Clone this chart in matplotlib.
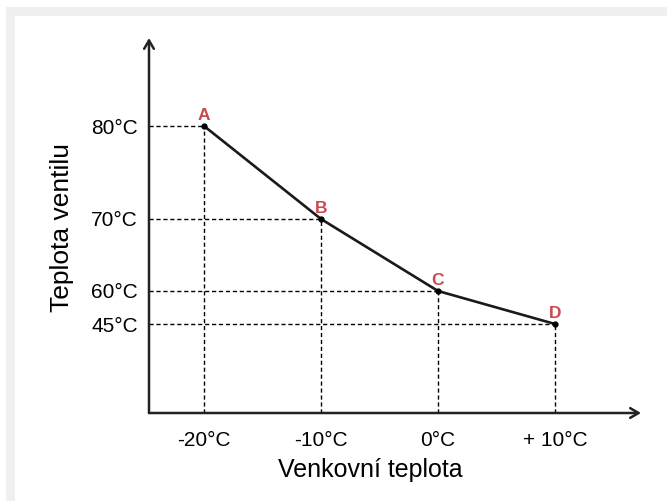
import numpy as np
import matplotlib
matplotlib.use("Agg")
import matplotlib.pyplot as plt
from matplotlib.patches import Rectangle

# ---- data ----
point_names = ["A", "B", "C", "D"]
outdoor_temp = [-20, -10, 0, 10]          # Venkovní teplota (°C)
valve_temp = [80, 70, 60, 45]             # Teplota ventilu (°C)
x_tick_labels = ["-20°C", "-10°C", "0°C", "+ 10°C"]
y_tick_labels = ["80°C", "70°C", "60°C", "45°C"]

plt.rcParams['font.family'] = ['Liberation Sans', 'DejaVu Sans']

W, H = 667, 501
fig = plt.figure(figsize=(W / 100, H / 100), dpi=100)
fig.patch.set_facecolor("white")
# light gray frame of the source picture
fig.patches.append(Rectangle((6 / W, 0), 1 - 6 / W, (H - 7) / H,
                             transform=fig.transFigure, facecolor="#f0f0f0",
                             edgecolor="none", zorder=-2))
fig.patches.append(Rectangle((15 / W, 0), 1 - 15 / W, (H - 16) / H,
                             transform=fig.transFigure, facecolor="white",
                             edgecolor="none", zorder=-1))

# axes area (pixel layout)
left_px, right_px, bottom_px, top_px = 149, 641, 413, 38
ax = fig.add_axes([left_px / W, 1 - bottom_px / H,
                   (right_px - left_px) / W, (bottom_px - top_px) / H])
ax.set_facecolor("none")

# non-linear (schematic) vertical scale: piecewise-linear mapping
kv = np.array([45.0, 60.0, 70.0, 80.0])
kp = np.array([89.0, 122.0, 194.0, 287.0])
lo_s = (kp[1] - kp[0]) / (kv[1] - kv[0])
hi_s = (kp[-1] - kp[-2]) / (kv[-1] - kv[-2])
kv_e = np.concatenate([[kv[0] - 200], kv, [kv[-1] + 200]])
kp_e = np.concatenate([[kp[0] - 200 * lo_s], kp, [kp[-1] + 200 * hi_s]])

def fwd(v):
    return np.interp(v, kv_e, kp_e)

def inv(p):
    return np.interp(p, kp_e, kv_e)

ax.set_yscale("function", functions=(fwd, inv))
span_px = bottom_px - top_px
ax.set_ylim(float(inv(0.0)), float(inv(span_px)))

px_per_deg = (555 - 204) / 30.0
ax.set_xlim(-20 - (204 - left_px) / px_per_deg, -20 + (right_px - 204) / px_per_deg)

x0, x1 = ax.get_xlim()
y0, y1 = ax.get_ylim()

# dashed guide lines
for xv, yv in zip(outdoor_temp, valve_temp):
    ax.plot([x0, xv], [yv, yv], color="black", lw=1.0, ls=(0, (3, 2)), zorder=2)
    ax.plot([xv, xv], [y0, yv], color="black", lw=1.0, ls=(0, (3, 2)), zorder=2)

# main curve
ax.plot(outdoor_temp, valve_temp, color="#1a1a1a", lw=1.9, zorder=3,
        marker="o", markersize=3.5, markerfacecolor="black", markeredgecolor="black")

for name, xv, yv in zip(point_names, outdoor_temp, valve_temp):
    ax.annotate(name, (xv, yv), xytext=(0, 2), textcoords="offset points",
                ha="center", va="bottom", color="#c94a4a", fontsize=12.5,
                fontweight="bold", zorder=4)

# axes with arrows
for s in ax.spines.values():
    s.set_visible(False)
ax.annotate("", xy=(1.0, 0.0), xytext=(0.0, 0.0), xycoords="axes fraction",
            arrowprops=dict(arrowstyle="->,head_length=0.6,head_width=0.35",
                            lw=1.8, color="#222222", shrinkA=0, shrinkB=0))
ax.annotate("", xy=(0.0, 1.0), xytext=(0.0, 0.0), xycoords="axes fraction",
            arrowprops=dict(arrowstyle="->,head_length=0.6,head_width=0.35",
                            lw=1.8, color="#222222", shrinkA=0, shrinkB=0))

ax.set_xticks(outdoor_temp)
ax.set_xticklabels(x_tick_labels, fontsize=15)
ax.set_yticks(valve_temp)
ax.set_yticklabels(y_tick_labels, fontsize=15)
ax.yaxis.set_minor_locator(matplotlib.ticker.NullLocator())
ax.tick_params(axis="x", length=0, pad=13)
ax.tick_params(axis="y", length=0, pad=8)

ax.set_xlabel("Venkovní teplota", fontsize=18, va="center")
ax.xaxis.set_label_coords((370 - left_px) / (right_px - left_px),
                          (bottom_px - 470) / span_px)
ax.set_ylabel("Teplota ventilu", fontsize=19, va="center")
ax.yaxis.set_label_coords((62 - left_px) / (right_px - left_px),
                          (bottom_px - 227) / span_px)

fig.savefig("out.png", dpi=100)
